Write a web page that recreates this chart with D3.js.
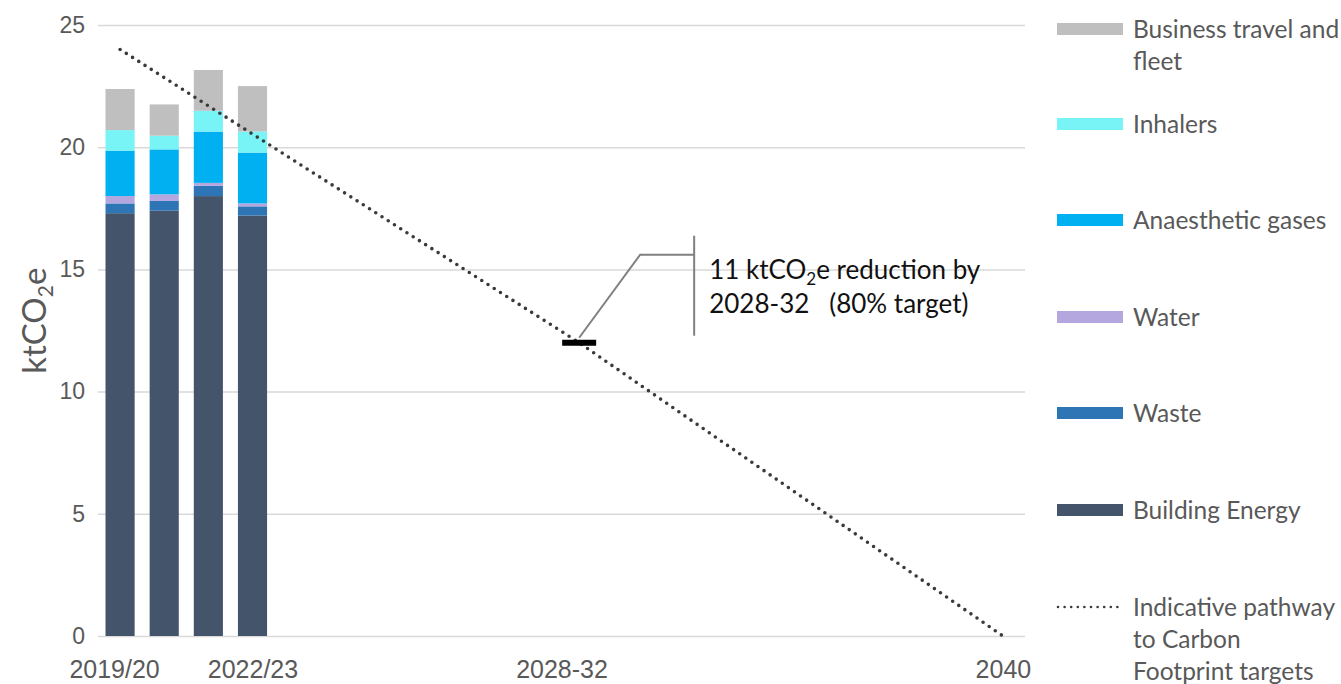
<!DOCTYPE html>
<html>
<head>
<meta charset="utf-8">
<script src="https://cdn.jsdelivr.net/npm/d3@7"></script>
<style>
  html, body { margin: 0; padding: 0; background: #ffffff; }
  svg { display: block; font-family: "Lato", "Open Sans", sans-serif; }
</style>
</head>
<body>
<svg id="chart" width="1341" height="684"></svg>
<script>
// Carbon footprint by source, with indicative pathway to targets
const periods = ["2019/20", "2020/21", "2021/22", "2022/23"];
const periodIndex = [0, 1, 2, 3];

const buildingEnergy = [17.3, 17.4, 18.0, 17.2];
const waste          = [0.40, 0.40, 0.42, 0.38];
const water          = [0.30, 0.27, 0.12, 0.12];
const anaesthetic    = [1.86, 1.84, 2.10, 2.08];
const inhalers       = [0.84, 0.56, 0.85, 0.86];
const businessTravel = [1.68, 1.28, 1.67, 1.86];

const seriesNames  = ["Building Energy", "Waste", "Water", "Anaesthetic gases", "Inhalers", "Business travel and fleet"];
const seriesValues = [buildingEnergy, waste, water, anaesthetic, inhalers, businessTravel];
const seriesColors = ["#44546a", "#2e75b6", "#b4a7e0", "#00b0f0", "#78f3f6", "#bfbfbf"];

// x tick labels at positions on the yearly axis (0 = 2019/20, 20 = 2040)
const xTickPos    = [0, 3, 10, 20];
const xTickLabels = ["2019/20", "2022/23", "2028-32", "2040"];

const yTicks = [0, 5, 10, 15, 20, 25];

// Indicative pathway (ktCO2e) and the 2028-32 target point
const pathwayPos    = [0, 10.4, 20];
const pathwayValues = [24, 12, 0];
const targetPos   = 10.4;
const targetValue = 12;

const svg = d3.select("#chart");

const x = d3.scaleLinear().domain([-0.5, 20.5]).range([98, 1025]);
const y = d3.scaleLinear().domain([0, 25]).range([636, 25]);
const halfBar = 0.33;

// gridlines and y tick labels
const yAxis = d3.axisLeft(y).tickValues(yTicks).tickSize(-(x.range()[1] - x.range()[0])).tickPadding(13);
const gy = svg.append("g").attr("transform", `translate(${x.range()[0]},0)`).call(yAxis);
gy.select(".domain").remove();
gy.selectAll(".tick line").attr("stroke", "#d9d9d9").attr("stroke-width", 1.5);
gy.selectAll(".tick text").attr("fill", "#595959").style("font-size", "23px");

// x axis labels
const xAxis = d3.axisBottom(x).tickValues(xTickPos).tickFormat((d, i) => xTickLabels[i]).tickSize(0).tickPadding(24);
const gx = svg.append("g").attr("transform", `translate(0,${y(0)})`).call(xAxis);
gx.select(".domain").remove();
gx.selectAll(".tick text").attr("fill", "#595959").style("font-size", "25px")
  .attr("dx", (d, i) => i === 0 ? -6 : 0);

// stacked bars
const rows = periodIndex.map((p, i) => {
  const r = { pos: p };
  seriesNames.forEach((n, s) => r[n] = seriesValues[s][i]);
  return r;
});
const stacked = d3.stack().keys(seriesNames)(rows);
svg.append("g").selectAll("g").data(stacked).join("g")
  .attr("fill", (d, i) => seriesColors[i])
  .selectAll("rect").data(d => d).join("rect")
  .attr("x", d => x(d.data.pos - halfBar))
  .attr("width", d => x(d.data.pos + halfBar) - x(d.data.pos - halfBar))
  .attr("y", d => y(d[1]))
  .attr("height", d => y(d[0]) - y(d[1]));

// indicative pathway (dotted)
const line = d3.line().x(d => x(d[0])).y(d => y(d[1]));
svg.append("path")
  .datum(pathwayPos.map((p, i) => [p, pathwayValues[i]]))
  .attr("d", line)
  .attr("fill", "none")
  .attr("stroke", "#3a3a3a")
  .attr("stroke-width", 3.6)
  .attr("stroke-linecap", "round")
  .attr("stroke-dasharray", "0 7.4");

// target marker
const tx = x(targetPos), ty = y(targetValue);
svg.append("line")
  .attr("x1", tx - 17).attr("x2", tx + 17)
  .attr("y1", ty).attr("y2", ty)
  .attr("stroke", "#000").attr("stroke-width", 6);

// annotation leader and bracket
svg.append("polyline")
  .attr("points", [[tx, ty - 5], [tx + 61, ty - 88], [tx + 115, ty - 88]].map(p => p.join(",")).join(" "))
  .attr("fill", "none").attr("stroke", "#808080").attr("stroke-width", 2);
svg.append("line")
  .attr("x1", tx + 115).attr("x2", tx + 115)
  .attr("y1", ty - 107).attr("y2", ty - 7)
  .attr("stroke", "#808080").attr("stroke-width", 2);

const ann = svg.append("text")
  .attr("x", tx + 130).attr("y", ty - 64)
  .attr("fill", "#111").style("font-size", "26px");
ann.append("tspan").text("11 ktCO");
ann.append("tspan").text("2").style("font-size", "17px").attr("dy", 6);
ann.append("tspan").text("e reduction by").attr("dy", -6);
svg.append("text")
  .attr("x", tx + 130).attr("y", ty - 30)
  .attr("fill", "#111").style("font-size", "26px")
  .attr("xml:space", "preserve")
  .text("2028-32   (80% target)");

// y-axis title
const yt = svg.append("text")
  .attr("transform", `translate(46,${y(12.9)}) rotate(-90)`)
  .attr("text-anchor", "middle")
  .attr("fill", "#595959").style("font-size", "33px");
yt.append("tspan").text("ktCO");
yt.append("tspan").text("2").style("font-size", "21px").attr("dy", 7);
yt.append("tspan").text("e").attr("dy", -7);

// legend
const legendItems = [
  { lines: ["Business travel and", "fleet"], color: "#bfbfbf", cy: 29 },
  { lines: ["Inhalers"], color: "#78f3f6", cy: 124 },
  { lines: ["Anaesthetic gases"], color: "#00b0f0", cy: 220 },
  { lines: ["Water"], color: "#b4a7e0", cy: 317 },
  { lines: ["Waste"], color: "#2e75b6", cy: 413 },
  { lines: ["Building Energy"], color: "#44546a", cy: 510 },
  { lines: ["Indicative pathway", "to Carbon", "Footprint targets"], color: null, cy: 607 }
];
const lg = svg.append("g");
legendItems.forEach(it => {
  if (it.color) {
    lg.append("rect").attr("x", 1057).attr("y", it.cy - 6).attr("width", 66).attr("height", 12).attr("fill", it.color);
  } else {
    lg.append("line").attr("x1", 1058).attr("x2", 1118).attr("y1", it.cy).attr("y2", it.cy)
      .attr("stroke", "#3a3a3a").attr("stroke-width", 2.6).attr("stroke-linecap", "round").attr("stroke-dasharray", "0 6.6");
  }
  it.lines.forEach((t, j) => {
    lg.append("text").attr("x", 1133).attr("y", it.cy + 9 + j * 32)
      .attr("fill", "#595959").style("font-size", "24.5px").text(t);
  });
});
</script>
</body>
</html>
